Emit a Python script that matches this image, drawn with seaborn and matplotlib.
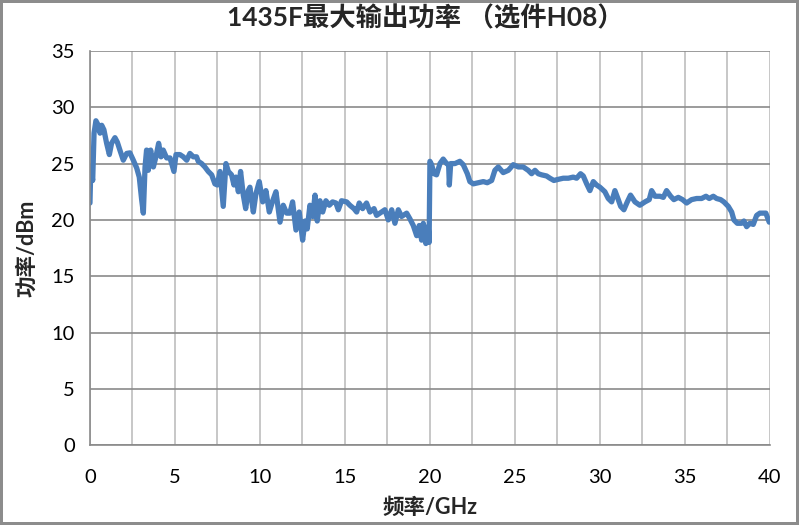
import numpy as np
import pandas as pd
import seaborn as sns
import matplotlib.pyplot as plt
from matplotlib.ticker import MultipleLocator

# dane
freq_ghz = [
    0, 0.05, 0.16, 0.24, 0.35, 0.49, 0.59, 0.69, 0.82, 0.98, 1.14, 1.27, 1.47, 1.61, 1.76, 1.96,
    2.16, 2.35, 2.55, 2.75, 2.9, 3.04, 3.14, 3.24, 3.33, 3.43, 3.57, 3.73, 3.88, 4.04, 4.18, 4.31,
    4.51, 4.71, 4.94, 5.06, 5.29, 5.49, 5.69, 5.88, 6.08, 6.27, 6.37, 6.57, 6.76, 6.96, 7.16, 7.35,
    7.49, 7.65, 7.84, 8.0, 8.14, 8.33, 8.47, 8.59, 8.73, 8.86, 9.02, 9.16, 9.31,
    9.41, 9.61, 9.76, 9.96, 10.16, 10.35, 10.55, 10.75, 10.94, 11.18, 11.37, 11.57, 11.76, 11.92,
    12.12, 12.31, 12.51, 12.65, 12.78, 12.94, 13.1, 13.24, 13.37, 13.53, 13.69, 13.88, 14.08, 14.27,
    14.47, 14.61, 14.8, 15.1, 15.29, 15.53, 15.69, 15.84, 16.04, 16.27, 16.47, 16.71, 16.86, 17.16,
    17.35, 17.55, 17.75, 17.94, 18.14, 18.33, 18.63, 18.82, 19.02, 19.22, 19.37, 19.51, 19.61, 19.76,
    19.9, 19.95,
    20.0, 20.1, 20.24, 20.39, 20.59, 20.78, 20.98, 21.1, 21.14, 21.22, 21.47, 21.76, 21.96, 22.2,
    22.35, 22.55, 22.84, 23.14, 23.37, 23.63, 23.82, 24.02, 24.31, 24.61, 24.9, 25.2, 25.49, 25.78,
    25.98, 26.18, 26.37, 26.57, 26.86, 27.06, 27.29, 27.55, 27.84, 28.14, 28.43, 28.63, 28.86, 29.02,
    29.22, 29.41, 29.61, 29.8,
    30.0, 30.29, 30.49, 30.69, 30.88, 31.08, 31.22, 31.41, 31.61, 31.8, 32.06, 32.35, 32.65, 32.9,
    33.04, 33.24, 33.53, 33.73, 33.92, 34.16, 34.35, 34.61, 34.86, 35.1, 35.39, 35.69, 35.98, 36.24,
    36.43, 36.67, 36.86, 37.1, 37.29, 37.55, 37.75, 37.88, 38.08, 38.33, 38.47, 38.63, 38.82, 39.02,
    39.22, 39.41, 39.61, 39.76, 39.96,
]
power_dbm = [
    21.5, 24.7, 23.5, 27.7, 28.8, 28.4, 27.7, 28.4, 28.0, 26.8, 25.8, 26.8, 27.3, 26.9, 26.2, 25.3,
    25.9, 25.95, 25.3, 24.6, 23.8, 21.8, 20.6, 24.7, 26.2, 24.4, 26.2, 24.7, 25.6, 26.8, 25.6, 26.2,
    25.5, 25.5, 24.3, 25.8, 25.8, 25.6, 25.3, 25.9, 25.6, 25.6, 25.2, 25.0, 24.7, 24.3, 24.0, 23.2,
    23.1, 24.3, 21.2, 25.0, 24.3, 24.0, 23.1, 23.8, 22.5, 24.3, 22.2, 21.0, 22.6,
    22.9, 20.7, 22.3, 23.4, 21.6, 22.6, 20.7, 21.7, 22.5, 19.8, 21.3, 20.6, 20.6, 21.6,
    19.1, 20.7, 18.2, 19.9, 19.2, 21.3, 20.3, 22.2, 19.9, 21.7, 20.7, 21.7, 21.3, 21.6,
    21.5, 20.9, 21.7, 21.6, 21.3, 21.0, 20.7, 21.5, 21.0, 21.5, 20.7, 21.0, 20.4, 20.7,
    20.9, 20.0, 20.9, 19.7, 20.9, 20.3, 20.6, 20.1, 19.5, 18.6, 19.5, 18.2, 19.7, 17.9,
    19.4, 18.0,
    25.2, 24.9, 24.1, 24.0, 25.0, 25.4, 25.0, 24.9, 23.1, 25.0, 25.0, 25.2, 24.9, 24.1,
    23.4, 23.2, 23.3, 23.4, 23.3, 23.5, 24.4, 24.7, 24.2, 24.4, 24.9, 24.7, 24.7, 24.4,
    24.1, 24.4, 24.1, 24.0, 23.9, 23.7, 23.5, 23.6, 23.7, 23.7, 23.8, 23.7, 24.1, 23.9,
    23.2, 22.6, 23.4, 23.1,
    22.9, 22.5, 21.9, 21.6, 22.6, 21.8, 21.2, 20.9, 21.6, 22.2, 21.6, 21.3, 21.6, 21.8,
    22.6, 22.1, 22.1, 22.0, 22.6, 22.1, 21.8, 22.0, 21.8, 21.5, 21.8, 21.9, 21.9, 22.1,
    21.9, 22.1, 21.9, 21.8, 21.6, 21.2, 20.7, 20.0, 19.7, 19.7, 19.9, 19.4, 19.7, 19.6,
    20.4, 20.6, 20.6, 20.6, 19.8,
]

title = "1435F最大输出功率 （选件H08）"
x_label = "频率/GHz"
y_label = "功率/dBm"

df = pd.DataFrame({"freq": freq_ghz, "power": power_dbm})

sns.set_style("white")
plt.rcParams["font.family"] = ["Lato", "Noto Sans CJK SC", "DejaVu Sans"]

fig = plt.figure(figsize=(7.99, 5.25), dpi=100, edgecolor="#8c8c8c", linewidth=3)
ax = fig.add_axes([0.1126, 0.152, 0.851, 0.751])

sns.lineplot(data=df, x="freq", y="power", sort=False, estimator=None,
             color="#4a7ebb", linewidth=3.8, ax=ax)

ax.set_xlim(0, 40)
ax.set_ylim(0, 35)
ax.xaxis.set_major_locator(MultipleLocator(5))
ax.xaxis.set_minor_locator(MultipleLocator(2.5))
ax.yaxis.set_major_locator(MultipleLocator(5))

ax.grid(axis="y", which="major", color="#8a8a8a", linewidth=1.2)
ax.grid(axis="x", which="both", color="#bdbdbd", linewidth=1.2)
ax.set_axisbelow(True)

for side in ["top", "right"]:
    ax.spines[side].set_visible(False)
for side in ["left", "bottom"]:
    ax.spines[side].set_color("#8a8a8a")
    ax.spines[side].set_linewidth(1.2)

ax.tick_params(axis="both", which="major", direction="out", length=5, width=1.2,
               color="#8a8a8a", labelsize=14.5, labelcolor="#000000", pad=6)
ax.tick_params(axis="x", which="minor", length=0)
ax.tick_params(axis="x", which="major", pad=12)

ax.set_xlabel(x_label, fontsize=15.5, fontweight="bold", labelpad=8)
ax.set_ylabel(y_label, fontsize=15.5, fontweight="bold", labelpad=10)
fig.suptitle(title, x=0.533, y=0.99, fontsize=19, fontweight="bold")

fig.savefig("out.png", dpi=100, edgecolor=fig.get_edgecolor())
